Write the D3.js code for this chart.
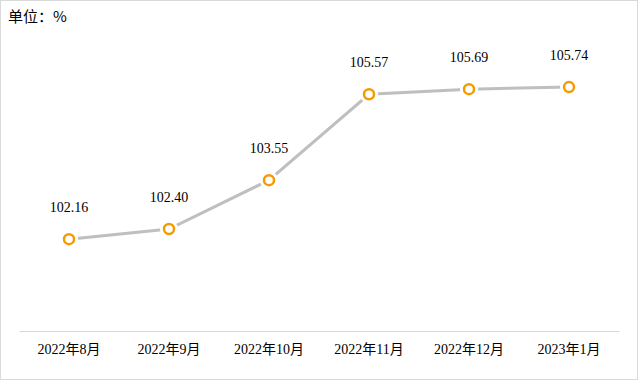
<!DOCTYPE html>
<html><head><meta charset="utf-8">
<script src="https://cdn.jsdelivr.net/npm/d3@7"></script>
<style>body{margin:0;background:#fff}svg{display:block}</style>
</head><body>
<script>
const categories = ["2022年8月","2022年9月","2022年10月","2022年11月","2022年12月","2023年1月"];
const values = [102.16, 102.40, 103.55, 105.57, 105.69, 105.74];
const unitLabel = "单位：%";

const W = 638, H = 380;
const svg = d3.select("body").append("svg").attr("width", W).attr("height", H);
svg.append("rect").attr("x",0.5).attr("y",0.5).attr("width",W-1).attr("height",H-1)
  .attr("fill","#fff").attr("stroke","#d9d9d9");

const x = d3.scaleBand().domain(categories).range([19,619]);
const y = d3.scaleLinear().domain([100,107]).range([331,33.5]);

svg.append("text").attr("x",8).attr("y",22).text(unitLabel)
  .attr("font-family","'Noto Sans CJK SC', sans-serif").attr("font-size",15).attr("fill","#000");

const ax = svg.append("g").attr("transform","translate(0,331)")
  .call(d3.axisBottom(x).tickSize(0).tickPadding(13));
ax.select(".domain").attr("stroke","#d9d9d9");
ax.selectAll("text").attr("font-family","'Liberation Serif','Noto Sans CJK SC',serif")
  .attr("font-size",14).attr("fill","#000");

const cx = d => x(d.c) + x.bandwidth()/2;
const data = categories.map((c,i)=>({c, v: values[i]}));

svg.append("path").datum(data)
  .attr("d", d3.line().x(cx).y(d=>y(d.v)))
  .attr("fill","none").attr("stroke","#bfbfbf").attr("stroke-width",3);

svg.selectAll("circle.gap").data(data).join("circle")
  .attr("cx",cx).attr("cy",d=>y(d.v)).attr("r",9).attr("fill","#fff");
svg.selectAll("circle.m").data(data).join("circle")
  .attr("cx",cx).attr("cy",d=>y(d.v)).attr("r",5)
  .attr("fill","#fff").attr("stroke","#f59b00").attr("stroke-width",2.5);

svg.selectAll("text.lbl").data(data).join("text")
  .attr("x",cx).attr("y",d=>y(d.v)-27).attr("text-anchor","middle")
  .attr("font-family","'Liberation Serif',serif").attr("font-size",14).attr("fill","#000")
  .text(d=>d.v.toFixed(2));
</script>
</body></html>
